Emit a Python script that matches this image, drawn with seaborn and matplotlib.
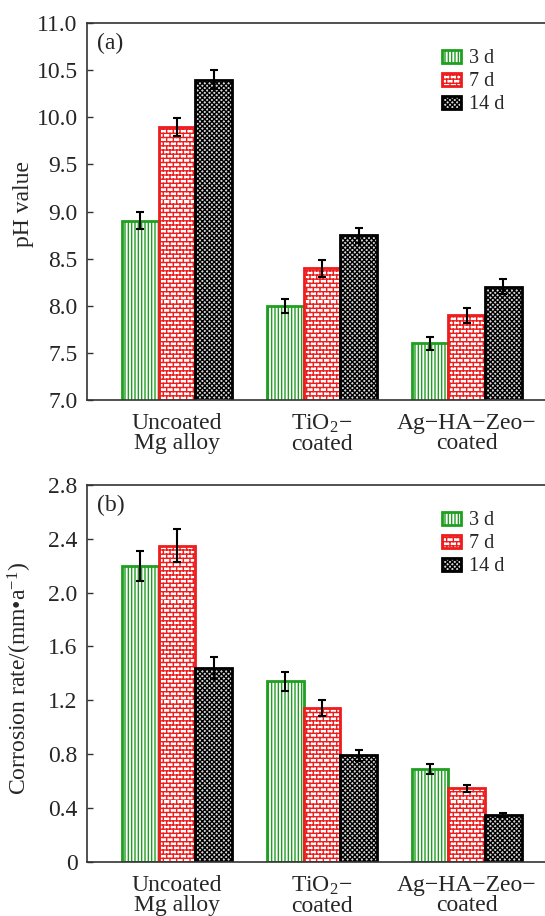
import warnings

import matplotlib
matplotlib.use("Agg")
import matplotlib.pyplot as plt
import numpy as np
import pandas as pd
import seaborn as sns
from matplotlib import hatch as mhatch
from matplotlib.path import Path

warnings.filterwarnings("ignore")

SAMPLES = ["Uncoated\nMg alloy", "TiO$_2$\u2212\ncoated", "Ag\u2212HA\u2212Zeo\u2212\ncoated"]
TIMES = ["3 d", "7 d", "14 d"]

# pH value, rows = time, cols = sample
PH_3D = [8.90, 8.00, 7.60]
PH_7D = [9.90, 8.40, 7.90]
PH_14D = [10.40, 8.75, 8.20]
PH_ERR_3D = [0.09, 0.075, 0.07]
PH_ERR_7D = [0.095, 0.09, 0.08]
PH_ERR_14D = [0.10, 0.08, 0.08]

# corrosion rate, mm/a
CR_3D = [2.20, 1.34, 0.69]
CR_7D = [2.35, 1.14, 0.545]
CR_14D = [1.44, 0.79, 0.35]
CR_ERR_3D = [0.11, 0.07, 0.035]
CR_ERR_7D = [0.12, 0.06, 0.025]
CR_ERR_14D = [0.08, 0.04, 0.015]

PH_TICKS = [7.0, 7.5, 8.0, 8.5, 9.0, 9.5, 10.0, 10.5, 11.0]
CR_TICKS = [0, 0.4, 0.8, 1.2, 1.6, 2.0, 2.4, 2.8]
CR_TICKLABELS = ["0", "0.4", "0.8", "1.2", "1.6", "2.0", "2.4", "2.8"]


class BrickHatch(mhatch.HatchPatternBase):
    """brick wall pattern, triggered by 'b' in the hatch string"""

    def __init__(self, hatch, density):
        n = int(hatch.count("b") * density)
        n += n % 2
        self.num_rows = n
        self.num_bricks = max(int(n * 0.65), 1)
        self.num_vertices = (self.num_rows + self.num_rows * self.num_bricks) * 2

    def set_vertices_and_codes(self, vertices, codes):
        n, m = self.num_rows, self.num_bricks
        ys = np.linspace(0.0, 1.0, n, endpoint=False)
        h = 1.0 / n
        k = 0
        for y in ys:
            vertices[k] = (0.0, y)
            vertices[k + 1] = (1.0, y)
            k += 2
        for i, y in enumerate(ys):
            off = 0.5 * (i % 2) / m
            for j in range(m):
                x = j / m + off
                vertices[k] = (x, y)
                vertices[k + 1] = (x, y + h)
                k += 2
        codes[0::2] = Path.MOVETO
        codes[1::2] = Path.LINETO


mhatch._hatch_types.append(BrickHatch)

sns.set_theme(style="white")
plt.rcParams["font.family"] = ["Liberation Serif", "DejaVu Serif"]
plt.rcParams["mathtext.fontset"] = "custom"
plt.rcParams["mathtext.rm"] = "Liberation Serif"
plt.rcParams["mathtext.it"] = "Liberation Serif:italic"
plt.rcParams["hatch.linewidth"] = 1.0

STYLES = [
    dict(edge="#1f9f1f", face="white", hatch="|||||"),
    dict(edge="#ee1c1c", face="white", hatch="bbbb"),
    dict(edge="#000000", face="#d8d8d8", hatch="xxxxxxx"),
]

FS = 17
W_PX, H_PX = 545, 916


def draw_panel(ax, values, errors, ticks, ticklabels, ylim, ylabel, tag, label_y):
    df = pd.DataFrame({
        "sample": SAMPLES * 3,
        "time": np.repeat(TIMES, 3),
        "value": np.concatenate(values),
    })
    sns.barplot(data=df, x="sample", y="value", hue="time", order=SAMPLES,
                hue_order=TIMES, errorbar=None, width=0.76, ax=ax,
                legend=False)
    for cont, st, err in zip(ax.containers, STYLES, errors):
        for bar in cont.patches:
            bar.set_facecolor(st["face"])
            bar.set_edgecolor(st["edge"])
            bar.set_hatch(st["hatch"])
            bar.set_linewidth(2.0)
        xs = [b.get_x() + b.get_width() / 2 for b in cont.patches]
        ys = [b.get_height() for b in cont.patches]
        ax.errorbar(xs, ys, yerr=err, fmt="none", ecolor="black",
                    elinewidth=1.5, capsize=3.2, capthick=1.5, zorder=5)

    ax.set_xlim(-0.625, 2.562)
    ax.set_ylim(*ylim)
    ax.set_yticks(ticks)
    ax.set_yticklabels(ticklabels, fontsize=FS)
    ax.tick_params(axis="y", direction="in", length=4, width=1.0,
                   color="#333333", pad=6.5, left=True)
    ax.tick_params(axis="x", length=0, pad=9.5, labelsize=FS)
    for lab in ax.get_xticklabels():
        lab.set_linespacing(0.92)
    ax.set_xlabel("")
    ax.set_ylabel(ylabel, fontsize=FS)
    ax.yaxis.set_label_coords(-0.114, label_y)
    for sp in ax.spines.values():
        sp.set_color("#333333")
        sp.set_linewidth(1.2)
    ax.text(0.022, 0.947, tag, transform=ax.transAxes, fontsize=FS,
            ha="left", va="center")
    ax.legend(ax.containers, TIMES, loc="upper left",
              bbox_to_anchor=(0.770, 0.93), frameon=False, fontsize=14.5,
              handlelength=0.95, handleheight=0.6, handletextpad=0.4,
              labelspacing=0.2, borderpad=0, borderaxespad=0)


fig = plt.figure(figsize=(W_PX / 100, H_PX / 100), dpi=100)
left = 86.7 / W_PX
width = (548 - 86.7) / W_PX
ax_a = fig.add_axes([left, (H_PX - 400) / H_PX, width, 377 / H_PX])
ax_b = fig.add_axes([left, (H_PX - 861.7) / H_PX, width, 376.7 / H_PX])

draw_panel(ax_a, [PH_3D, PH_7D, PH_14D], [PH_ERR_3D, PH_ERR_7D, PH_ERR_14D],
           PH_TICKS, [f"{t:.1f}" for t in PH_TICKS], (7.0, 11.0), "pH value", "(a)",
           0.52)
draw_panel(ax_b, [CR_3D, CR_7D, CR_14D], [CR_ERR_3D, CR_ERR_7D, CR_ERR_14D],
           CR_TICKS, CR_TICKLABELS, (0, 2.8),
           "Corrosion rate/(mm\u2022a$^{-1}$)", "(b)", 0.485)

fig.savefig("out.png", dpi=100)
